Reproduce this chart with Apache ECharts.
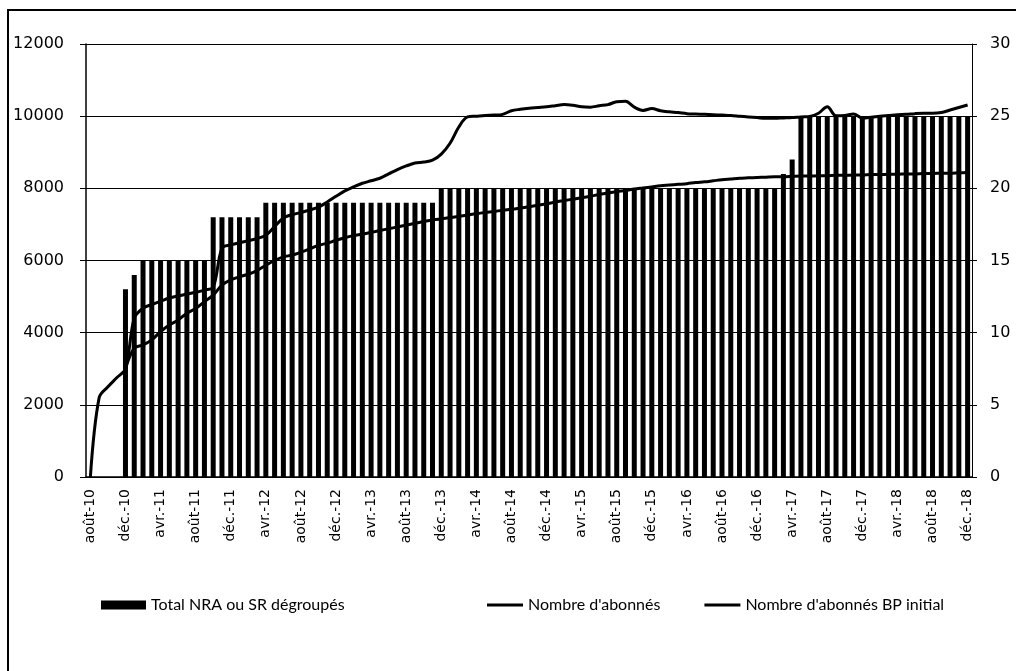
<!DOCTYPE html>
<html>
<head>
<meta charset="utf-8">
<script src="https://cdn.jsdelivr.net/npm/echarts@6/dist/echarts.min.js"></script>
<style>
  html, body { margin: 0; padding: 0; background: #fff; }
  #chart { width: 1016px; height: 671px; }
</style>
</head>
<body>
<div id="chart"></div>
<script>
// months août-10 .. déc-18
const monthNames = ['janv.', 'févr.', 'mars', 'avr.', 'mai', 'juin', 'juil.', 'août', 'sept.', 'oct.', 'nov.', 'déc.'];
const months = [];
for (let y = 10; y <= 18; y++) {
  for (let m = 0; m < 12; m++) {
    if (y === 10 && m < 7) continue;
    months.push(monthNames[m] + '-' + y);
  }
}

// Total NRA ou SR dégroupés (right axis)
const nraTotal = [
  null, null, null, null, 13, 14, 15, 15, 15, 15,
  15, 15, 15, 15, 18, 18, 18, 18, 18, 18,
  19, 19, 19, 19, 19, 19, 19, 19, 19, 19,
  19, 19, 19, 19, 19, 19, 19, 19, 19, 19,
  20, 20, 20, 20, 20, 20, 20, 20, 20, 20,
  20, 20, 20, 20, 20, 20, 20, 20, 20, 20,
  20, 20, 20, 20, 20, 20, 20, 20, 20, 20,
  20, 20, 20, 20, 20, 20, 20, 20, 20, 21,
  22, 25, 25, 25, 25, 25, 25, 25, 25, 25,
  25, 25, 25, 25, 25, 25, 25, 25, 25, 25,
  25
];

// Nombre d'abonnés (left axis)
const abonnes = [
  0, 2200, 2500, 2750, 3000, 4400, 4680, 4780, 4870, 4960,
  5020, 5070, 5120, 5180, 5260, 6340, 6430, 6490, 6550, 6610,
  6700, 6940, 7180, 7270, 7330, 7400, 7480, 7620, 7780, 7930,
  8040, 8140, 8210, 8280, 8400, 8520, 8620, 8700, 8730, 8780,
  8950, 9250, 9700, 9980, 10000, 10020, 10030, 10050, 10150, 10190,
  10220, 10240, 10260, 10290, 10320, 10300, 10260, 10250, 10290, 10320,
  10400, 10410, 10250, 10160, 10210, 10150, 10120, 10100, 10070, 10060,
  10050, 10040, 10030, 10020, 10000, 9980, 9960, 9940, 9940, 9950,
  9960, 9980, 9990, 10080, 10260, 10010, 10020, 10060, 9950, 9970,
  10000, 10020, 10040, 10050, 10070, 10080, 10080, 10100, 10170, 10240,
  10310
];

// Nombre d'abonnés BP initial (left axis)
const abonnesBP = [
  null, null, null, null, 3000, 3570, 3660, 3800, 4030, 4210,
  4350, 4540, 4670, 4860, 5040, 5320, 5460, 5550, 5620, 5720,
  5870, 6000, 6100, 6150, 6230, 6320, 6420, 6480, 6560, 6630,
  6690, 6730, 6780, 6830, 6880, 6930, 6980, 7030, 7080, 7120,
  7160, 7190, 7220, 7260, 7300, 7330, 7360, 7390, 7420, 7450,
  7490, 7530, 7570, 7620, 7660, 7700, 7740, 7780, 7830, 7870,
  7910, 7940, 7980, 8010, 8040, 8070, 8090, 8110, 8130, 8160,
  8180, 8210, 8240, 8260, 8280, 8290, 8300, 8310, 8320, 8320,
  8330, 8340, 8340, 8350, 8350, 8360, 8360, 8370, 8370, 8380,
  8380, 8390, 8390, 8400, 8400, 8410, 8410, 8420, 8420, 8430,
  8440
];

const chart = echarts.init(document.getElementById('chart'));

const axisFont = { fontFamily: 'DejaVu Sans', color: '#000' };
const legendFont = { fontFamily: 'Lato', fontSize: 16, color: '#000' };

const option = {
  animation: false,
  backgroundColor: '#fff',
  grid: { left: 86, right: 44, top: 44, bottom: 194 },
  graphic: [{
    type: 'rect',
    shape: { x: 8, y: 10, width: 1020, height: 680 },
    style: { fill: 'none', stroke: '#000', lineWidth: 2 }
  }],
  legend: [{
    data: [{ name: 'Total NRA ou SR dégroupés', icon: 'rect' }],
    left: 96, top: 592,
    itemWidth: 45, itemHeight: 9,
    textStyle: legendFont
  }, {
    data: [
      { name: "Nombre d'abonnés", icon: 'rect' },
      { name: "Nombre d'abonnés BP initial", icon: 'rect' }
    ],
    left: 482, top: 592,
    itemWidth: 36, itemHeight: 3, itemGap: 44,
    textStyle: legendFont
  }],
  xAxis: {
    type: 'category',
    data: months,
    boundaryGap: true,
    axisLine: { lineStyle: { color: '#000', width: 1.5 } },
    axisTick: { interval: 3, length: 5, lineStyle: { color: '#000' } },
    axisLabel: Object.assign({ interval: 3, rotate: 90, fontSize: 14, margin: 12 }, axisFont),
    splitLine: { show: false }
  },
  yAxis: [{
    type: 'value',
    min: 0, max: 12000, interval: 2000,
    axisLine: { show: true, lineStyle: { color: '#000', width: 1.5 } },
    axisTick: { show: true, length: 6, lineStyle: { color: '#000' } },
    axisLabel: Object.assign({ fontSize: 16, margin: 22, formatter: v => String(v) }, axisFont),
    splitLine: { lineStyle: { color: '#000', width: 1 } }
  }, {
    type: 'value',
    min: 0, max: 30, interval: 5,
    axisLine: { show: true, lineStyle: { color: '#000', width: 1 } },
    axisTick: { show: true, length: 5, lineStyle: { color: '#000' } },
    axisLabel: Object.assign({ fontSize: 16, margin: 18 }, axisFont),
    splitLine: { show: false }
  }],
  series: [{
    name: 'Total NRA ou SR dégroupés',
    type: 'bar',
    yAxisIndex: 1,
    data: nraTotal,
    barWidth: 5,
    itemStyle: { color: '#000' },
    z: 1
  }, {
    name: "Nombre d'abonnés",
    type: 'line',
    data: abonnes,
    smooth: 0.35,
    showSymbol: false,
    lineStyle: { color: '#000', width: 3 },
    itemStyle: { color: '#000' },
    z: 3
  }, {
    name: "Nombre d'abonnés BP initial",
    type: 'line',
    data: abonnesBP,
    smooth: 0.35,
    showSymbol: false,
    lineStyle: { color: '#000', width: 3 },
    itemStyle: { color: '#000' },
    z: 3
  }]
};

chart.setOption(option);
</script>
</body>
</html>
